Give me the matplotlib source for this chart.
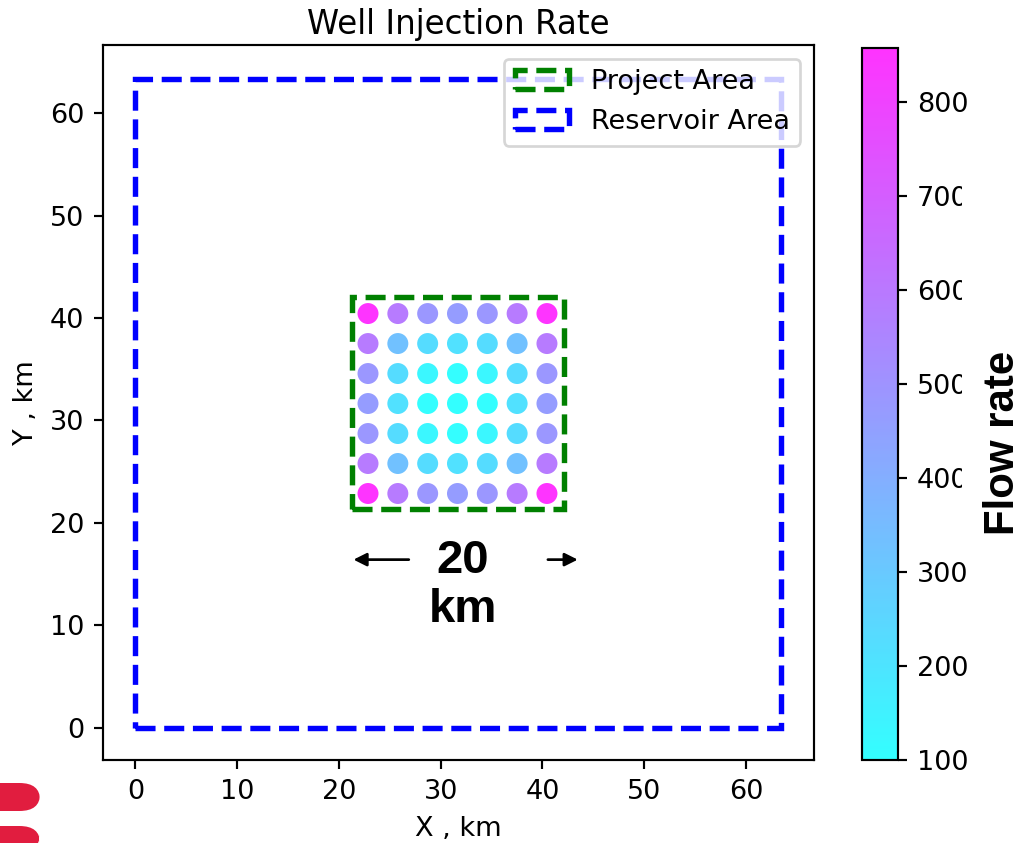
import numpy as np
import matplotlib
matplotlib.use("Agg")
import matplotlib.pyplot as plt
from matplotlib.patches import Rectangle, FancyBboxPatch

# well locations (km) on a 7x7 grid
well_x = [22.86, 25.79, 28.72, 31.65, 34.58, 37.51, 40.44]
well_y = [22.86, 25.79, 28.72, 31.65, 34.58, 37.51, 40.44]

# injection rate per well, rows from top to bottom
rates = [
    [855, 590, 485, 465, 485, 590, 855],
    [590, 330, 230, 210, 230, 330, 590],
    [485, 230, 130, 105, 130, 230, 485],
    [465, 210, 105, 100, 105, 210, 465],
    [485, 230, 130, 105, 130, 230, 485],
    [590, 330, 230, 210, 230, 330, 590],
    [855, 590, 485, 465, 485, 590, 855],
]

reservoir = (0.0, 0.0, 63.4)        # x0, y0, size
project = (21.3, 21.3, 20.8)
cbar_ticks = [100, 200, 300, 400, 500, 600, 700, 800]

X, Y = np.meshgrid(well_x, well_y[::-1])
Q = np.array(rates)

DPI = 195
fig = plt.figure(figsize=(1025 / DPI, 843 / DPI), dpi=DPI)
ax = fig.add_axes([103 / 1025, 83 / 843, 711 / 1025, 715 / 843])
cax = fig.add_axes([862 / 1025, 83 / 843, 36 / 1025, 712 / 843])

sc = ax.scatter(X.ravel(), Y.ravel(), c=Q.ravel(), cmap="cool", s=60,
                alpha=0.8, vmin=100, vmax=858, edgecolors="none", zorder=3)

ax.add_patch(Rectangle(project[:2], project[2], project[2], fill=False,
                       edgecolor="green", linestyle="--", linewidth=2,
                       label="Project Area"))
ax.add_patch(Rectangle(reservoir[:2], reservoir[2], reservoir[2], fill=False,
                       edgecolor="blue", linestyle="--", linewidth=2,
                       label="Reservoir Area"))
ax.set_xlim(-3.175, 66.675)
ax.set_ylim(-3.175, 66.675)
ax.legend(loc="upper right")

ax.set_title("Well Injection Rate", pad=4)
ax.set_xlabel("X , km")
ax.set_ylabel("Y , km")

# scale arrows
ax.text(32.2, 13.9, "20\nkm", ha="center", va="center", fontsize=17.5,
        fontweight="bold", family="Liberation Sans", linespacing=1.15)
ax.annotate("", xy=(20.9, 16.4), xytext=(27.4, 16.4),
            arrowprops=dict(arrowstyle="-|>", color="black", lw=1.0))
ax.annotate("", xy=(44.0, 16.4), xytext=(40.0, 16.4),
            arrowprops=dict(arrowstyle="-|>", color="black", lw=1.0))

cb = fig.colorbar(sc, cax=cax, ticks=cbar_ticks)

# white patch behind the colorbar label (as in the reference)
fig.patches.append(Rectangle((962 / 1025, 1 - 530 / 843), 63 / 1025, 380 / 843,
                             transform=fig.transFigure, facecolor="white",
                             edgecolor="none", zorder=5))
fig.text(1003 / 1025, 1 - 443 / 843, "Flow rate", rotation=90, ha="center",
         va="center", fontsize=15.5, fontweight="bold",
         family="Liberation Sans", zorder=6)

# red logo fragment in the corner
for y0, h in [(783, 28), (826, 25)]:
    fig.patches.append(FancyBboxPatch((-30 / 1025, 1 - (y0 + h) / 843), 70 / 1025, h / 843,
                                      boxstyle="round,pad=0,rounding_size=0.02",
                                      transform=fig.transFigure,
                                      facecolor="#e11d3f", edgecolor="none"))

fig.savefig("out.png", dpi=DPI)
